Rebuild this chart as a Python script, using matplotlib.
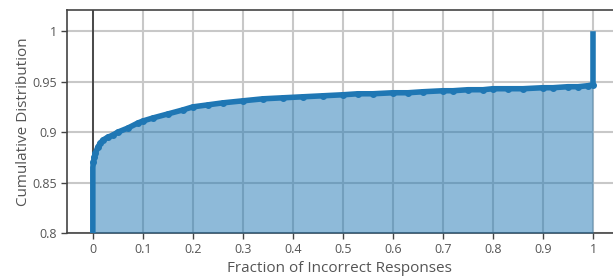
import matplotlib.pyplot as plt

plt.rcParams['font.family'] = ['Open Sans', 'DejaVu Sans']

frac = [0.0, 0.0, 0.001, 0.003, 0.005, 0.01, 0.015, 0.02, 0.03, 0.04, 0.05, 0.07,
        0.09, 0.1, 0.12, 0.15, 0.18, 0.2, 0.23, 0.26, 0.3, 0.34, 0.38, 0.42,
        0.46, 0.5, 0.53, 0.56, 0.6, 0.63, 0.66, 0.7, 0.72, 0.75, 0.78, 0.8,
        0.83, 0.86, 0.9, 0.92, 0.95, 0.97, 0.99, 1.0, 1.0]
cdf = [0.8, 0.865, 0.870, 0.875, 0.879, 0.885, 0.889, 0.892, 0.895, 0.897, 0.900, 0.904,
       0.909, 0.911, 0.914, 0.918, 0.922, 0.925, 0.927, 0.929, 0.931, 0.933, 0.934, 0.935,
       0.936, 0.937, 0.938, 0.938, 0.939, 0.939, 0.940, 0.941, 0.941, 0.942, 0.942, 0.943,
       0.943, 0.943, 0.944, 0.944, 0.945, 0.945, 0.946, 0.947, 1.0]

xticks = [0, 0.1, 0.2, 0.3, 0.4, 0.5, 0.6, 0.7, 0.8, 0.9, 1]
xticklabels = ['0', '0.1', '0.2', '0.3', '0.4', '0.5', '0.6', '0.7', '0.8', '0.9', '1']
yticks = [0.8, 0.85, 0.9, 0.95, 1]
yticklabels = ['0.8', '0.85', '0.9', '0.95', '1']

fig = plt.figure(figsize=(6.13, 2.79), dpi=100)
ax = fig.add_axes([0.109, 0.165, 0.891, 0.799])

blue = '#1f77b4'
ax.fill_between(frac, 0.8, cdf, color=blue, alpha=0.5, lw=0, zorder=3)
ax.plot(frac, cdf, color=blue, lw=4, zorder=4, solid_capstyle='butt')
ax.plot(frac[2:-1], cdf[2:-1], ls='none', marker='o', ms=4, color=blue, zorder=4)

ax.set_xlim(-0.052, 1.04)
ax.set_ylim(0.8, 1.021)
ax.set_xticks(xticks)
ax.set_xticklabels(xticklabels)
ax.set_yticks(yticks)
ax.set_yticklabels(yticklabels)

ax.grid(True, color='#c8c8c8', lw=1.5, zorder=1)
ax.axvline(0, color='#333333', lw=1.2, zorder=2)

for s in ['left', 'top', 'bottom']:
    ax.spines[s].set_color('#444444')
    ax.spines[s].set_linewidth(1.2)
ax.spines['right'].set_visible(False)

ax.tick_params(direction='out', length=4, width=1, color='#444444',
               labelsize=9, labelcolor='#555555', pad=3)

ax.set_xlabel('Fraction of Incorrect Responses', fontsize=11, color='#555555', labelpad=4)
ax.set_ylabel('Cumulative Distribution', fontsize=11, color='#555555')
ax.yaxis.set_label_coords(-0.066, 0.5)

fig.savefig('out.png', dpi=100)
